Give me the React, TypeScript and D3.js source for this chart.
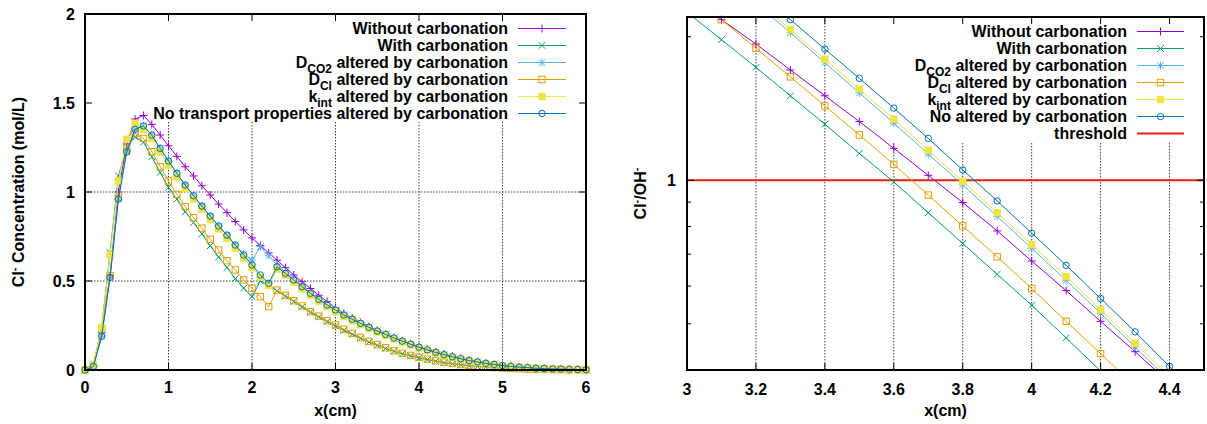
import React from "react";
import * as d3 from "d3";

// ---------- Left panel data: Cl- concentration (mol/L) vs x (cm) ----------
const xLeft = [
  0, 0.1, 0.2, 0.3, 0.4, 0.5, 0.6, 0.7, 0.8, 0.9, 1.0, 1.1, 1.2, 1.3, 1.4, 1.5, 1.6, 1.7, 1.8, 1.9,
  2.0, 2.1, 2.2, 2.3, 2.4, 2.5, 2.6, 2.7, 2.8, 2.9, 3.0, 3.1, 3.2, 3.3, 3.4, 3.5, 3.6, 3.7, 3.8, 3.9,
  4.0, 4.1, 4.2, 4.3, 4.4, 4.5, 4.6, 4.7, 4.8, 4.9, 5.0, 5.1, 5.2, 5.3, 5.4, 5.5, 5.6, 5.7, 5.8, 5.9, 6.0,
];
const withoutCarbonation = [
  0, 0.02, 0.21, 0.53, 1.0, 1.27, 1.41, 1.43, 1.38, 1.32, 1.26, 1.2, 1.142, 1.09, 1.035, 0.983, 0.932, 0.884, 0.834, 0.787,
  0.742, 0.7, 0.658, 0.617, 0.575, 0.534, 0.496, 0.458, 0.42, 0.384, 0.348, 0.318, 0.292, 0.267, 0.244, 0.222, 0.202, 0.182, 0.164, 0.147,
  0.131, 0.116, 0.102, 0.089, 0.077, 0.066, 0.056, 0.047, 0.039, 0.032, 0.026, 0.021, 0.017, 0.013, 0.01, 0.008, 0.006, 0.005, 0.004, 0.003, 0.002,
];
const withCarbonation = [
  0, 0.03, 0.24, 0.66, 1.09, 1.25, 1.31, 1.28, 1.198, 1.11, 1.026, 0.959, 0.889, 0.828, 0.765, 0.698, 0.634, 0.576, 0.513, 0.46,
  0.412, 0.5, 0.475, 0.445, 0.415, 0.385, 0.355, 0.324, 0.298, 0.272, 0.247, 0.223, 0.2, 0.178, 0.157, 0.139, 0.121, 0.105, 0.091, 0.079,
  0.068, 0.058, 0.049, 0.041, 0.035, 0.029, 0.024, 0.02, 0.016, 0.013, 0.01, 0.008, 0.006, 0.005, 0.004, 0.003, 0.002, 0.002, 0.001, 0.001, 0.001,
];
const dco2Altered = [
  0, 0.02, 0.19, 0.52, 0.96, 1.226, 1.352, 1.371, 1.32, 1.245, 1.174, 1.105, 1.039, 0.979, 0.921, 0.865, 0.809, 0.758, 0.702, 0.65,
  0.618, 0.693, 0.642, 0.59, 0.548, 0.508, 0.47, 0.433, 0.399, 0.367, 0.338, 0.31, 0.286, 0.263, 0.241, 0.22, 0.2, 0.18, 0.162, 0.145,
  0.128, 0.113, 0.099, 0.086, 0.074, 0.063, 0.053, 0.045, 0.037, 0.031, 0.025, 0.02, 0.016, 0.013, 0.01, 0.008, 0.006, 0.005, 0.004, 0.003, 0.002,
];
const dclAltered = [
  0, 0.02, 0.23, 0.53, 0.97, 1.24, 1.33, 1.301, 1.226, 1.142, 1.062, 0.987, 0.918, 0.856, 0.797, 0.734, 0.674, 0.614, 0.562, 0.506,
  0.459, 0.412, 0.356, 0.449, 0.419, 0.389, 0.36, 0.328, 0.303, 0.277, 0.253, 0.229, 0.206, 0.183, 0.161, 0.143, 0.125, 0.108, 0.094, 0.082,
  0.071, 0.061, 0.052, 0.044, 0.037, 0.031, 0.026, 0.021, 0.017, 0.014, 0.011, 0.009, 0.007, 0.005, 0.004, 0.003, 0.002, 0.002, 0.001, 0.001, 0.001,
];
const kintAltered = [
  0, 0.03, 0.24, 0.646, 1.062, 1.296, 1.386, 1.352, 1.3, 1.225, 1.152, 1.085, 1.02, 0.96, 0.903, 0.847, 0.792, 0.74, 0.685, 0.63,
  0.575, 0.522, 0.475, 0.567, 0.533, 0.494, 0.456, 0.42, 0.387, 0.356, 0.328, 0.301, 0.277, 0.255, 0.233, 0.213, 0.194, 0.175, 0.157, 0.141,
  0.124, 0.11, 0.096, 0.083, 0.072, 0.061, 0.052, 0.043, 0.036, 0.03, 0.024, 0.019, 0.015, 0.012, 0.009, 0.007, 0.006, 0.004, 0.003, 0.003, 0.002,
];
const noTransportAltered = [
  0, 0.02, 0.19, 0.52, 0.96, 1.226, 1.352, 1.371, 1.32, 1.245, 1.174, 1.105, 1.039, 0.979, 0.921, 0.865, 0.809, 0.758, 0.702, 0.646,
  0.59, 0.534, 0.487, 0.58, 0.543, 0.506, 0.468, 0.431, 0.397, 0.365, 0.337, 0.309, 0.285, 0.262, 0.24, 0.219, 0.2, 0.18, 0.162, 0.145,
  0.128, 0.113, 0.099, 0.086, 0.074, 0.063, 0.053, 0.045, 0.037, 0.031, 0.025, 0.02, 0.016, 0.013, 0.01, 0.008, 0.006, 0.005, 0.004, 0.003, 0.002,
];

// ---------- Right panel data: Cl-/OH- ratio (log) vs x (cm) ----------
const xRight = [3.0, 3.1, 3.2, 3.3, 3.4, 3.5, 3.6, 3.7, 3.8, 3.9, 4.0, 4.1, 4.2, 4.3, 4.4, 4.5];
const ratioWithout = [2.44, 2.172, 1.931, 1.703, 1.504, 1.328, 1.167, 1.024, 0.898, 0.783, 0.677, 0.587, 0.506, 0.437, 0.376, 0.324];
const ratioWith = [2.25, 1.972, 1.725, 1.504, 1.311, 1.139, 0.992, 0.855, 0.737, 0.635, 0.547, 0.467, 0.398, 0.34, 0.29, 0.25];
const ratioDco2 = [3.15, 2.72, 2.35, 2.04, 1.765, 1.525, 1.318, 1.135, 0.978, 0.84, 0.72, 0.617, 0.526, 0.447, 0.38, 0.325];
const ratioDcl = [2.49, 2.172, 1.891, 1.648, 1.432, 1.245, 1.08, 0.931, 0.802, 0.691, 0.593, 0.506, 0.433, 0.37, 0.316, 0.27];
const ratioKint = [3.2, 2.76, 2.39, 2.07, 1.793, 1.553, 1.343, 1.156, 0.995, 0.855, 0.733, 0.628, 0.535, 0.455, 0.387, 0.33];
const ratioNoAltered = [3.35, 2.9, 2.5, 2.172, 1.884, 1.636, 1.417, 1.224, 1.051, 0.905, 0.775, 0.663, 0.565, 0.481, 0.407, 0.345];
const thresholdValue = 1;

// ---------- Ticks ----------
const leftXTicks = [0, 1, 2, 3, 4, 5, 6];
const leftYTicks = [0, 0.5, 1, 1.5, 2];
const rightXTicks = [3, 3.2, 3.4, 3.6, 3.8, 4, 4.2, 4.4];
const rightYMajor = [1];
const rightYMinor = [0.5, 0.6, 0.7, 0.8, 0.9, 2];

// ---------- Layout / styles ----------
const FONT = "'Liberation Sans', Arial, Helvetica, sans-serif";
const L = { x0: 85, x1: 586, y0: 14, y1: 370 };
const R = { x0: 687, x1: 1204, y0: 17, y1: 370 };
const COLORS = ["#9400d3", "#009e73", "#56b4e9", "#e69f00", "#f0e442", "#0072b2"];
const SYMS = ["plus", "cross", "star", "box", "fbox", "circle"];
const RED = "#e51e10";
const GRID = "#404040";

type Label = { main: string; sub?: string; rest?: string };

const leftLabels: Label[] = [
  { main: "Without carbonation" },
  { main: "With carbonation" },
  { main: "D", sub: "CO2", rest: " altered by carbonation" },
  { main: "D", sub: "Cl", rest: " altered by carbonation" },
  { main: "k", sub: "int", rest: " altered by carbonation" },
  { main: "No transport properties altered by carbonation" },
];
const rightLabels: Label[] = [
  { main: "Without carbonation" },
  { main: "With carbonation" },
  { main: "D", sub: "CO2", rest: " altered by carbonation" },
  { main: "D", sub: "Cl", rest: " altered by carbonation" },
  { main: "k", sub: "int", rest: " altered by carbonation" },
  { main: "No altered by carbonation" },
  { main: "threshold" },
];

const leftValues = [withoutCarbonation, withCarbonation, dco2Altered, dclAltered, kintAltered, noTransportAltered];
const rightValues = [ratioWithout, ratioWith, ratioDco2, ratioDcl, ratioKint, ratioNoAltered];

function Marker({ sym, x, y, color }: { sym: string; x: number; y: number; color: string }) {
  const s = 4;
  const c = 3.3;
  const b = 3.2;
  const sw = 1;
  if (sym === "plus")
    return <path d={`M${x - s},${y}H${x + s}M${x},${y - s}V${y + s}`} stroke={color} strokeWidth={sw} fill="none" />;
  if (sym === "cross")
    return <path d={`M${x - c},${y - c}L${x + c},${y + c}M${x - c},${y + c}L${x + c},${y - c}`} stroke={color} strokeWidth={sw} fill="none" />;
  if (sym === "star")
    return (
      <path
        d={`M${x - s},${y}H${x + s}M${x},${y - s}V${y + s}M${x - c},${y - c}L${x + c},${y + c}M${x - c},${y + c}L${x + c},${y - c}`}
        stroke={color}
        strokeWidth={sw}
        fill="none"
      />
    );
  if (sym === "box")
    return <rect x={x - b} y={y - b} width={2 * b} height={2 * b} stroke={color} strokeWidth={sw} fill="none" />;
  if (sym === "fbox")
    return <rect x={x - b - 0.5} y={y - b - 0.5} width={2 * b + 1} height={2 * b + 1} fill={color} />;
  return <circle cx={x} cy={y} r={3.2} stroke={color} strokeWidth={sw} fill="none" />;
}

function LabelText({ lab, x, y }: { lab: Label; x: number; y: number }) {
  return (
    <text x={x} y={y} textAnchor="end" fontFamily={FONT} fontWeight="bold" fontSize={16} fill="#000">
      {lab.main}
      {lab.sub ? (
        <tspan dy={5} fontSize={12}>
          {lab.sub}
        </tspan>
      ) : null}
      {lab.rest ? (
        <tspan dy={-5} fontSize={16}>
          {lab.rest}
        </tspan>
      ) : null}
    </text>
  );
}

export default function App() {
  const xl = d3.scaleLinear().domain([0, 6]).range([L.x0, L.x1]);
  const yl = d3.scaleLinear().domain([0, 2]).range([L.y1, L.y0]);
  const xr = d3.scaleLinear().domain([3, 4.5]).range([R.x0, R.x1]);
  const yr = d3.scaleLog().domain([0.4, 2.2]).range([R.y1, R.y0]);

  const lineL = d3
    .line<number>()
    .x((_, i) => xl(xLeft[i]))
    .y((d) => yl(d));
  const lineR = d3
    .line<number>()
    .x((_, i) => xr(xRight[i]))
    .y((d) => yr(d));

  const tickMajor = 7;
  const tickMinor = 4;
  const txt = { fontFamily: FONT, fontWeight: "bold" as const, fontSize: 16, fill: "#000" };

  // legend geometry
  const legL = { textX: 508, lineX0: 518, lineX1: 566, y0: 28.5, dy: 17 };
  const legR = { textX: 1127, lineX0: 1137, lineX1: 1184, y0: 31.5, dy: 17 };

  return (
    <svg width={1207} height={424} style={{ display: "block", position: "absolute", left: 0, top: 0 }}>
      <defs>
        <clipPath id="clipR">
          <rect x={R.x0} y={R.y0} width={R.x1 - R.x0} height={R.y1 - R.y0} />
        </clipPath>
      </defs>
      <rect x={0} y={0} width={1207} height={424} fill="#fff" />

      {/* ================= LEFT PANEL ================= */}
      <g>
        {/* grid */}
        {leftXTicks.slice(1, -1).map((t) => (
          <line key={"lgx" + t} x1={xl(t)} x2={xl(t)} y1={L.y0} y2={L.y1} stroke={GRID} strokeWidth={1} strokeDasharray="1.5,1.5" />
        ))}
        {leftYTicks.slice(1, -1).map((t) => (
          <line key={"lgy" + t} x1={L.x0} x2={L.x1} y1={yl(t)} y2={yl(t)} stroke={GRID} strokeWidth={1} strokeDasharray="1.5,1.5" />
        ))}
        {/* opaque key box */}
        <rect x={L.x0 + 1} y={L.y0 + 1} width={L.x1 - L.x0 - 2} height={107} fill="#fff" />
        {/* series */}
        {leftValues.map((vals, si) => (
          <g key={"ls" + si}>
            <path d={lineL(vals) || ""} fill="none" stroke={COLORS[si]} strokeWidth={1} />
            {vals.map((v, i) => (
              <Marker key={i} sym={SYMS[si]} x={xl(xLeft[i])} y={yl(v)} color={COLORS[si]} />
            ))}
          </g>
        ))}
        {/* ticks */}
        {leftXTicks.map((t) => (
          <g key={"lxt" + t}>
            <line x1={xl(t)} x2={xl(t)} y1={L.y1} y2={L.y1 - tickMajor} stroke="#000" />
            <line x1={xl(t)} x2={xl(t)} y1={L.y0} y2={L.y0 + tickMajor} stroke="#000" />
            <text x={xl(t)} y={393} textAnchor="middle" {...txt}>
              {String(t)}
            </text>
          </g>
        ))}
        {leftYTicks.map((t) => (
          <g key={"lyt" + t}>
            <line x1={L.x0} x2={L.x0 + tickMajor} y1={yl(t)} y2={yl(t)} stroke="#000" />
            <line x1={L.x1} x2={L.x1 - tickMajor} y1={yl(t)} y2={yl(t)} stroke="#000" />
            <text x={75} y={yl(t)} dy="0.35em" textAnchor="end" {...txt}>
              {String(t)}
            </text>
          </g>
        ))}
        {/* frame */}
        <rect x={L.x0} y={L.y0} width={L.x1 - L.x0} height={L.y1 - L.y0} fill="none" stroke="#000" strokeWidth={2} />
        {/* legend */}
        {leftLabels.map((lab, i) => {
          const y = legL.y0 + i * legL.dy;
          return (
            <g key={"ll" + i}>
              <LabelText lab={lab} x={legL.textX} y={y + 5.5} />
              <line x1={legL.lineX0} x2={legL.lineX1} y1={y} y2={y} stroke={COLORS[i]} strokeWidth={1} />
              <Marker sym={SYMS[i]} x={(legL.lineX0 + legL.lineX1) / 2} y={y} color={COLORS[i]} />
            </g>
          );
        })}
        {/* axis labels */}
        <text x={(L.x0 + L.x1) / 2} y={416} textAnchor="middle" {...txt}>
          x(cm)
        </text>
        <text transform={`translate(24, ${(L.y0 + L.y1) / 2}) rotate(-90)`} textAnchor="middle" {...txt}>
          Cl
          <tspan dy={-6} fontSize={11}>
            -
          </tspan>
          <tspan dy={6}> Concentration (mol/L)</tspan>
        </text>
      </g>

      {/* ================= RIGHT PANEL ================= */}
      <g>
        {rightXTicks.slice(1).map((t) => (
          <line key={"rgx" + t} x1={xr(t)} x2={xr(t)} y1={R.y0} y2={R.y1} stroke={GRID} strokeWidth={1} strokeDasharray="1.5,1.5" />
        ))}
        {/* opaque key box */}
        <rect x={884} y={R.y0 + 1} width={R.x1 - 884 - 1} height={125} fill="#fff" />
        <g clipPath="url(#clipR)">
          <line x1={R.x0} x2={R.x1} y1={yr(thresholdValue)} y2={yr(thresholdValue)} stroke={RED} strokeWidth={2} />
          {rightValues.map((vals, si) => (
            <path key={"rl" + si} d={lineR(vals) || ""} fill="none" stroke={COLORS[si]} strokeWidth={1} />
          ))}
        </g>
        {rightValues.map((vals, si) => (
          <g key={"rm" + si}>
            {vals.map((v, i) =>
              v >= 0.4 && v <= 2.2 && xRight[i] >= 3 && xRight[i] <= 4.5 ? (
                <Marker key={i} sym={SYMS[si]} x={xr(xRight[i])} y={yr(v)} color={COLORS[si]} />
              ) : null
            )}
          </g>
        ))}
        {/* ticks */}
        {rightXTicks.map((t) => (
          <g key={"rxt" + t}>
            <line x1={xr(t)} x2={xr(t)} y1={R.y1} y2={R.y1 - tickMajor} stroke="#000" />
            <line x1={xr(t)} x2={xr(t)} y1={R.y0} y2={R.y0 + tickMajor} stroke="#000" />
            <text x={xr(t)} y={395} textAnchor="middle" {...txt}>
              {String(t)}
            </text>
          </g>
        ))}
        {rightYMajor.map((t) => (
          <g key={"ryt" + t}>
            <line x1={R.x0} x2={R.x0 + tickMajor} y1={yr(t)} y2={yr(t)} stroke="#000" />
            <line x1={R.x1} x2={R.x1 - tickMajor} y1={yr(t)} y2={yr(t)} stroke="#000" />
            <text x={676} y={yr(t)} dy="0.35em" textAnchor="end" {...txt}>
              {String(t)}
            </text>
          </g>
        ))}
        {rightYMinor.map((t) => (
          <g key={"rym" + t}>
            <line x1={R.x0} x2={R.x0 + tickMinor} y1={yr(t)} y2={yr(t)} stroke="#000" />
            <line x1={R.x1} x2={R.x1 - tickMinor} y1={yr(t)} y2={yr(t)} stroke="#000" />
          </g>
        ))}
        <rect x={R.x0} y={R.y0} width={R.x1 - R.x0} height={R.y1 - R.y0} fill="none" stroke="#000" strokeWidth={2} />
        {/* legend */}
        {rightLabels.map((lab, i) => {
          const y = legR.y0 + i * legR.dy;
          const isThr = i === 6;
          const color = isThr ? RED : COLORS[i];
          return (
            <g key={"rl" + i}>
              <LabelText lab={lab} x={legR.textX} y={y + 5.5} />
              <line x1={legR.lineX0} x2={legR.lineX1} y1={y} y2={y} stroke={color} strokeWidth={isThr ? 2 : 1} />
              {!isThr && <Marker sym={SYMS[i]} x={(legR.lineX0 + legR.lineX1) / 2} y={y} color={color} />}
            </g>
          );
        })}
        <text x={(R.x0 + R.x1) / 2} y={416} textAnchor="middle" {...txt}>
          x(cm)
        </text>
        <text transform={`translate(646, ${(R.y0 + R.y1) / 2}) rotate(-90)`} textAnchor="middle" {...txt}>
          Cl
          <tspan dy={-6} fontSize={11}>
            -
          </tspan>
          <tspan dy={6}>/OH</tspan>
          <tspan dy={-6} fontSize={11}>
            -
          </tspan>
        </text>
      </g>
    </svg>
  );
}
